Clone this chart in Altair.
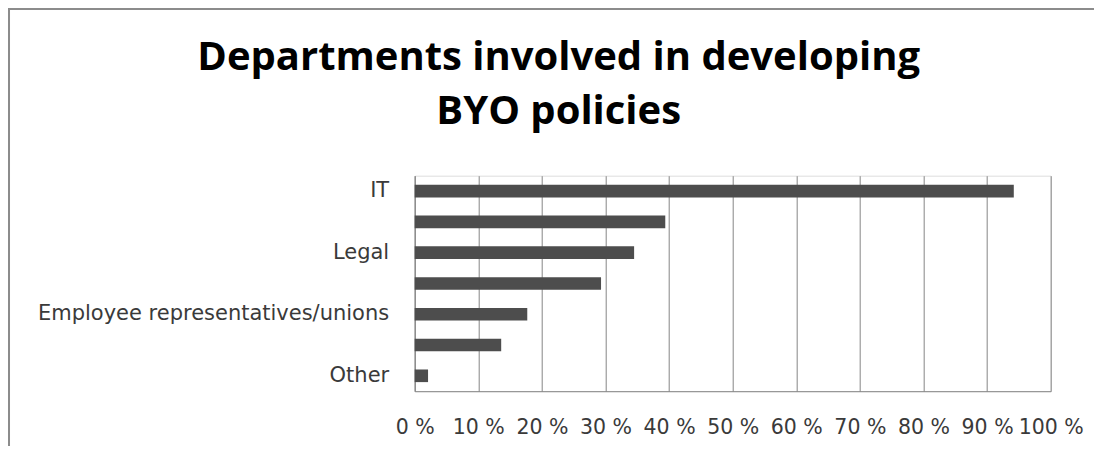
import json
import altair as alt
import pandas as pd

# Data
categories = [
    "IT",
    "HR",
    "Legal",
    "Finance",
    "Employee representatives/unions",
    "Senior management",
    "Other",
]
shown_labels = ["IT", "Legal", "Employee representatives/unions", "Other"]
values = [0.942, 0.394, 0.345, 0.293, 0.177, 0.136, 0.021]
x_ticks = [0, 0.1, 0.2, 0.3, 0.4, 0.5, 0.6, 0.7, 0.8, 0.9, 1.0]
title_lines = ["Departments involved in developing", "BYO policies"]

df = pd.DataFrame({"department": categories, "share": values})

GRID = "#868686"
LABEL = "#3a3a3a"
FONT = "DejaVu Sans"

y_label_expr = "indexof(" + json.dumps(shown_labels) + ", datum.value) >= 0 ? datum.value : ''"

bars = alt.Chart(df).mark_bar(color="#4d4d4d").encode(
    x=alt.X(
        "share:Q",
        scale=alt.Scale(domain=[0, 1], nice=False, zero=True),
        axis=alt.Axis(
            values=x_ticks,
            labelExpr="round(datum.value * 100) + ' %'",
            title=None,
            grid=True,
            gridColor=GRID,
            gridWidth=1,
            domainColor=GRID,
            domainWidth=1,
            ticks=False,
            labelPadding=26,
            labelFont=FONT,
            labelFontSize=20.5,
            labelColor=LABEL,
            labelFlush=False,
            labelOverlap=False,
        ),
    ),
    y=alt.Y(
        "department:N",
        sort=categories,
        scale=alt.Scale(paddingInner=0.59, paddingOuter=0.295),
        axis=alt.Axis(
            labelExpr=y_label_expr,
            title=None,
            grid=False,
            ticks=False,
            domainColor=GRID,
            domainWidth=1,
            labelPadding=26,
            labelFont=FONT,
            labelFontSize=21,
            labelColor=LABEL,
            labelOverlap=False,
            labelLimit=600,
        ),
    ),
)

frame_data = alt.Data(values=[{"k": 1}])
frame_left = alt.Chart(frame_data).mark_rule(color="#8c8c8c", strokeWidth=2).encode(
    x=alt.value(-405.7), y=alt.value(-167.7), y2=alt.value(300)
)
frame_top = alt.Chart(frame_data).mark_rule(color="#8c8c8c", strokeWidth=2).encode(
    x=alt.value(-406.7), x2=alt.value(720), y=alt.value(-166.7)
)

chart = (
    alt.layer(bars, frame_left, frame_top)
    .properties(
        width=636,
        height=215.5,
        autosize=alt.AutoSizeParams(type="none"),
        padding={"left": 406.7, "top": 167.7, "right": 43, "bottom": 55},
        title=alt.TitleParams(
            text=title_lines,
            font="Open Sans",
            fontSize=40,
            fontWeight="bold",
            color="#000000",
            anchor="middle",
            frame="group",
            dx=-174,
            offset=-165,
            lineHeight=54,
            baseline="bottom",
        ),
    )
    .configure_view(strokeWidth=0)
    .configure(background="#ffffff")
)

chart.save("out.html", embed_options={"renderer": "svg", "actions": False})
